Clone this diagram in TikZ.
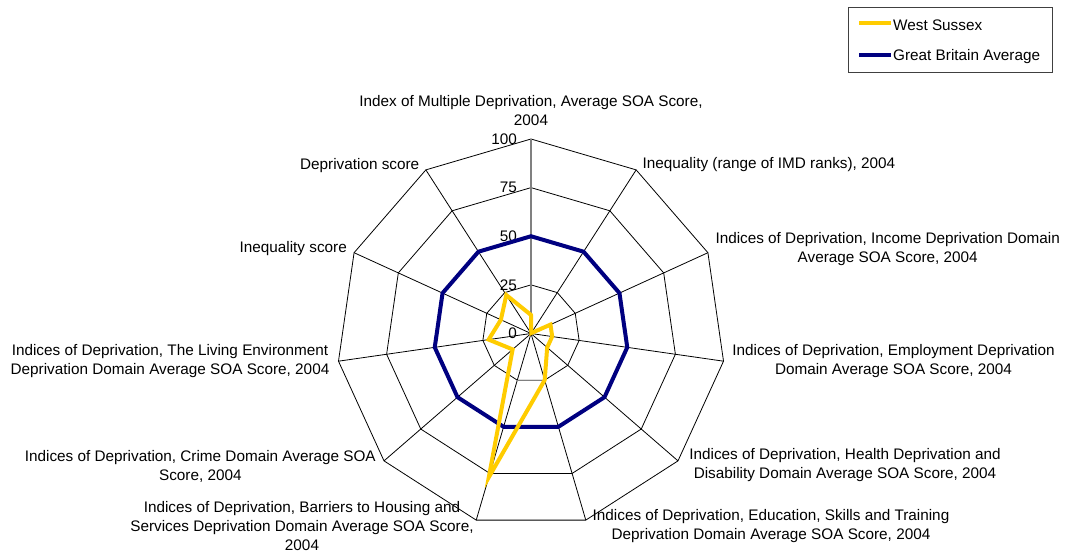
\documentclass[tikz,border=0pt]{standalone}
\usepackage{fontspec}
\setmainfont{Liberation Sans}
\definecolor{wsyellow}{HTML}{FFCC00}
\definecolor{gbnavy}{HTML}{000080}
\begin{document}
\begin{tikzpicture}[x=1pt,y=-1pt,
  lbl/.style={font=\fontsize{15.3}{19}\selectfont, align=center, inner sep=0pt},
  tick/.style={font=\fontsize{15.3}{18}\selectfont, anchor=east, inner sep=0pt},
  grid/.style={black, line width=0.8pt},
  vaxis/.style={gray, line width=1.3pt},
  wsline/.style={wsyellow, line width=4pt, line join=miter},
  gbline/.style={gbnavy, line width=4pt, line join=miter}]
\useasboundingbox (0,0) rectangle (1066,554);
\fill[white] (0,0) rectangle (1066,554);
\begin{scope}[shift={(531,333.5)}]
  % rings
  \foreach \r in {48.625,97.25,145.875,194.5}{
    \draw[grid] (-90:\r) \foreach \k in {1,...,10}{ -- (-90+\k*32.72727:\r) } -- cycle;
  }
  % spokes
  \foreach \k in {1,...,10}{
    \draw[grid] (0,0) -- (-90+\k*32.72727:194.5);
  }
  \draw[vaxis] (0,0) -- (-90:194.5);
  \draw[vaxis] (-90+5*32.72727:48.625) -- (-90+6*32.72727:48.625);
  % tick labels
  \foreach \v/\r in {0/0,25/48.625,50/97.25,75/145.875,100/194.5}{
    \node[tick] (t\v) at (-14,-\r) {\v};
  }
  % Great Britain average
  \draw[gbline] (-90:97.25) \foreach \k in {1,...,10}{ -- (-90+\k*32.72727:97.25) } -- cycle;
  % West Sussex
  \draw[wsline] (-90:18.5)
    -- (-90+1*32.72727:0.5)
    -- (-90+2*32.72727:21.4)
    -- (-90+3*32.72727:21.4)
    -- (-90+4*32.72727:21.4)
    -- (-90+5*32.72727:48.6)
    -- (-90+6*32.72727:149.8)
    -- (-90+7*32.72727:24.3)
    -- (-90+8*32.72727:42.8)
    -- (-90+9*32.72727:33.1)
    -- (-90+10*32.72727:45.7)
    -- cycle;
\end{scope}
% category labels
\node[lbl] (c0) at (531,111) {Index of Multiple Deprivation, Average SOA Score,\\2004};
\node[lbl, anchor=west] (c1) at (642.5,165) {Inequality (range of IMD ranks), 2004};
\node[lbl] (c2) at (887.7,249) {Indices of Deprivation, Income Deprivation Domain\\Average SOA Score, 2004};
\node[lbl] (c3) at (893.5,361.5) {Indices of Deprivation, Employment Deprivation\\Domain Average SOA Score, 2004};
\node[lbl] (c4) at (845,465) {Indices of Deprivation, Health Deprivation and\\Disability Domain Average SOA Score, 2004};
\node[lbl] (c5) at (771,526) {Indices of Deprivation, Education, Skills and Training\\Deprivation Domain Average SOA Score, 2004};
\node[lbl] (c6) at (302,526.5) {Indices of Deprivation, Barriers to Housing and\\Services Deprivation Domain Average SOA Score,\\2004};
\node[lbl] (c7) at (200.3,466) {Indices of Deprivation, Crime Domain Average SOA\\Score, 2004};
\node[lbl] (c8) at (170,361.5) {Indices of Deprivation, The Living Environment\\Deprivation Domain Average SOA Score, 2004};
\node[lbl, anchor=east] (c9) at (347,249) {Inequality score};
\node[lbl, anchor=east] (c10) at (419.4,165.5) {Deprivation score};
% legend
\draw[black!75, line width=0.9pt] (848,7.5) rectangle (1052,72.5);
\draw[wsline] (859,23) -- (891,23);
\draw[gbline] (859,54.5) -- (891,54.5);
\node[lbl, anchor=west] (l1) at (893,25) {West Sussex};
\node[lbl, anchor=west] (l2) at (893,56.5) {Great Britain Average};
\end{tikzpicture}
\end{document}
